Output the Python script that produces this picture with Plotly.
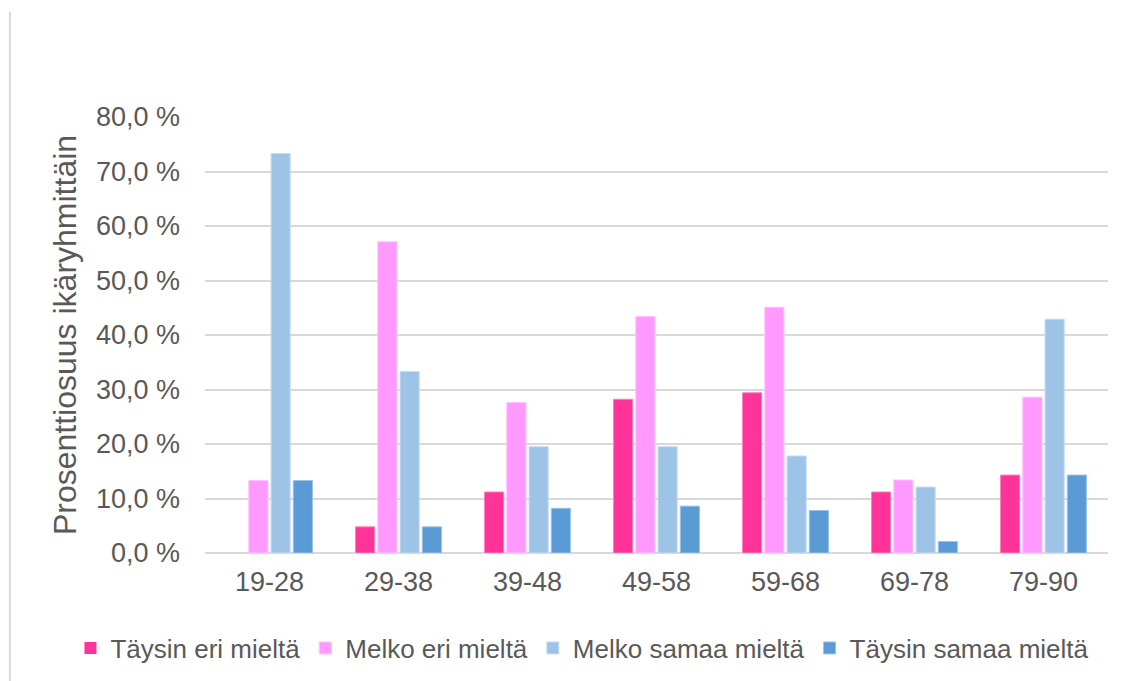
import plotly.graph_objects as go

categories = ["19-28", "29-38", "39-48", "49-58", "59-68", "69-78", "79-90"]
series_names = ["Täysin eri mieltä", "Melko eri mieltä", "Melko samaa mieltä", "Täysin samaa mieltä"]
taysin_eri = [0.0, 4.8, 11.2, 28.2, 29.4, 11.2, 14.3]
melko_eri = [13.3, 57.1, 27.6, 43.4, 45.1, 13.4, 28.6]
melko_samaa = [73.3, 33.3, 19.5, 19.5, 17.8, 12.1, 42.9]
taysin_samaa = [13.3, 4.8, 8.2, 8.6, 7.8, 2.1, 14.3]
tick_vals = [0, 10, 20, 30, 40, 50, 60, 70, 80]
tick_text = ["0,0 %", "10,0 %", "20,0 %", "30,0 %", "40,0 %", "50,0 %", "60,0 %", "70,0 %", "80,0 %"]
y_title = "Prosenttiosuus ikäryhmittäin"

colors = ["#FF3399", "#FF99FF", "#9DC3E6", "#5B9BD5"]
edge = ["#FF7FBF", "#FFC2FF", "#C6DCF0", "#9CC1E6"]

fig = go.Figure()
for name, vals, c, e in zip(series_names, [taysin_eri, melko_eri, melko_samaa, taysin_samaa], colors, edge):
    widths = [1 if v > 0 else 0 for v in vals]
    fig.add_trace(go.Bar(x=categories, y=vals, name=name,
                         marker=dict(color=c, line=dict(color=e, width=widths))))

font_family = "Liberation Sans, Arial, sans-serif"
fig.update_layout(
    width=1131, height=673,
    paper_bgcolor="white", plot_bgcolor="white",
    margin=dict(l=197, r=31, t=109, b=128, autoexpand=False),
    barmode="group", bargap=0.31, bargroupgap=0.14,
    font=dict(family=font_family, color="#595959", size=26),
    showlegend=True,
    legend=dict(orientation="h", x=-0.149, xanchor="left", y=-0.218, yanchor="middle",
                font=dict(size=26, color="#595959"), tracegroupgap=0),
    xaxis=dict(showgrid=False, showline=False, ticks="", tickfont=dict(size=27, color="#595959"),
               ticklabelstandoff=10),
    yaxis=dict(range=[0, 80], tickvals=tick_vals, ticktext=tick_text,
               showgrid=True, gridcolor="#D9D9D9", gridwidth=1.5,
               zeroline=True, zerolinecolor="#D9D9D9", zerolinewidth=1.5,
               showline=False, ticks="", tickfont=dict(size=27, color="#595959"),
               ticklabelstandoff=24,
               title=dict(text=y_title, font=dict(size=32, color="#595959"), standoff=9)),
    shapes=[dict(type="line", xref="paper", yref="paper", x0=-0.216, x1=-0.216, y0=1.241, y1=-0.3,
                 line=dict(color="#D9D9D9", width=2))],
)

fig.write_html("out.html")
